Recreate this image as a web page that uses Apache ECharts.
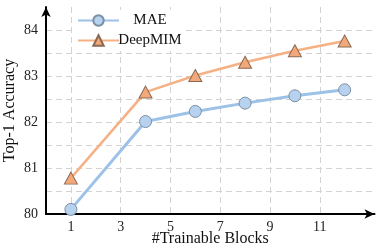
<!DOCTYPE html>
<html>
<head>
<meta charset="utf-8">
<script src="https://cdn.jsdelivr.net/npm/echarts@6/dist/echarts.min.js"></script>
<style>html,body{margin:0;padding:0;background:#fff}#c{width:381px;height:246px}</style>
</head>
<body>
<div id="c"></div>
<script>
const blocks = [1, 4, 6, 8, 10, 12];
const maeValues = [80.1, 82.01, 82.23, 82.41, 82.57, 82.70];
const deepmimValues = [80.78, 82.65, 83.01, 83.30, 83.55, 83.76];
const xTickLabels = [1, 3, 5, 7, 9, 11];
const yTickLabels = [80, 81, 82, 83, 84];

const serif = '"Liberation Serif", "DejaVu Serif", serif';
const grid = '#d3d3d3';
const xGridColors = [];
for (let t = 1; t <= 13; t++) xGridColors.push(xTickLabels.indexOf(t) >= 0 ? grid : 'rgba(0,0,0,0)');

const chart = echarts.init(document.getElementById('c'));
chart.setOption({
  animation: false,
  backgroundColor: '#fff',
  grid: { left: 46, right: 6.5, top: 7, bottom: 32, containLabel: false, outerBoundsMode: 'none' },
  legend: {
    orient: 'vertical', left: 73, top: 10,
    itemWidth: 41, itemHeight: 13, itemGap: 5,
    backgroundColor: '#fff', padding: [3, 4, 3, 4],
    formatter: '{a|{name}}',
    textStyle: { fontFamily: serif, fontSize: 15, color: '#111',
      rich: { a: { width: 52, align: 'center', fontFamily: serif, fontSize: 15, color: '#111' } } },
    data: ['MAE', 'DeepMIM']
  },
  xAxis: {
    type: 'value', min: 0, max: 13.2, interval: 1,
    name: '#Trainable Blocks', nameLocation: 'middle', nameGap: 17, nameMoveOverlap: false,
    nameTextStyle: { fontFamily: serif, fontSize: 16, color: '#111' },
    axisLine: { lineStyle: { color: '#000', width: 2 }, symbol: ['none', 'arrow'], symbolSize: [7, 10] },
    axisTick: { show: false },
    axisLabel: { fontFamily: serif, fontSize: 14, color: '#222', margin: 6,
      formatter: v => xTickLabels.indexOf(v) >= 0 ? String(v) : '' },
    splitLine: { show: true, showMinLine: false, showMaxLine: false,
      lineStyle: { color: xGridColors, type: [6, 4], width: 1 } }
  },
  yAxis: {
    type: 'value', min: 80, max: 84.5, interval: 0.5,
    name: 'Top-1 Accuracy', nameLocation: 'middle', nameGap: 28, nameRotate: 90, nameMoveOverlap: false,
    nameTextStyle: { fontFamily: serif, fontSize: 16, color: '#111' },
    axisLine: { show: true, lineStyle: { color: '#000', width: 2 }, symbol: ['none', 'arrow'], symbolSize: [7, 10] },
    axisTick: { show: false },
    axisLabel: { fontFamily: serif, fontSize: 14, color: '#222', margin: 8,
      formatter: v => yTickLabels.indexOf(v) >= 0 ? String(v) : '' },
    splitLine: { show: true, showMinLine: false, showMaxLine: false,
      lineStyle: { color: grid, type: [6, 4], width: 1 } }
  },
  series: [
    {
      name: 'MAE', type: 'line',
      data: blocks.map((b, i) => [b, maeValues[i]]),
      symbol: 'circle', symbolSize: 12,
      lineStyle: { color: '#9cc2e7', width: 3 },
      itemStyle: { color: '#b6d2ee', borderColor: '#7d8fa5', borderWidth: 1 },
      z: 3
    },
    {
      name: 'DeepMIM', type: 'line',
      data: blocks.map((b, i) => [b, deepmimValues[i]]),
      symbol: 'triangle', symbolSize: [13, 12],
      lineStyle: { color: '#f5b184', width: 2.5 },
      itemStyle: { color: '#f2a878', borderColor: '#8a6a55', borderWidth: 1 },
      z: 4
    }
  ]
});
</script>
</body>
</html>
